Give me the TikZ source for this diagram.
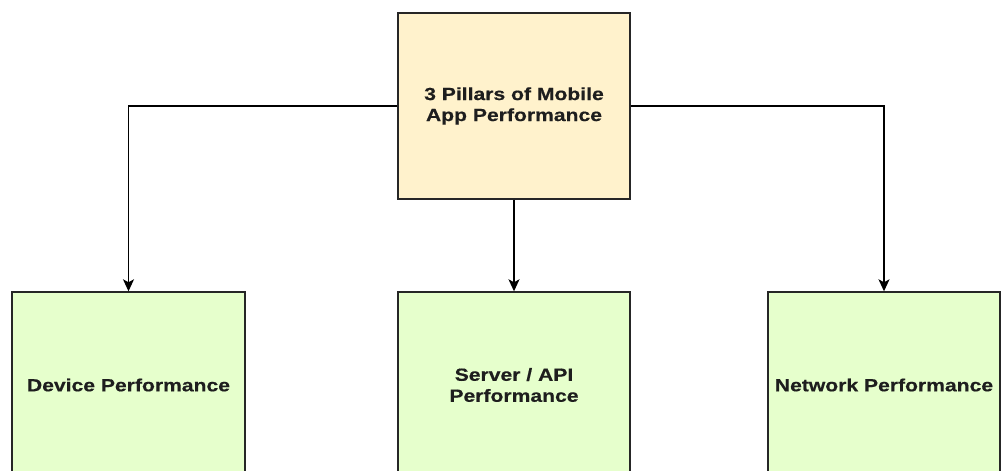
\documentclass[tikz,border=0pt]{standalone}
\usepackage{fontspec}
\newfontfamily\labfont[FakeStretch=1.2,FakeBold=0.5]{Liberation Sans Bold}
\usetikzlibrary{arrows.meta}
\definecolor{topfill}{HTML}{FFF2CC}
\definecolor{pillfill}{HTML}{E6FFCC}
\definecolor{txt}{HTML}{1E1E1E}
\begin{document}
\begin{tikzpicture}[x=1pt,y=-1pt,
  box/.style={draw=black!85,line width=1.4pt,minimum width=232pt,minimum height=186pt,
    inner sep=0pt,align=center,text=txt,font=\labfont\fontsize{17.6}{21}\selectfont},
  link/.style={draw=black,line width=1.4pt,-{Stealth[length=12pt,width=11pt,inset=3pt]}}]
\useasboundingbox (0,0) rectangle (1004,471);
\clip (0,0) rectangle (1004,471);
\node[box,fill=topfill] (top) at (514,106) {3 Pillars of Mobile\\App Performance};
\node[box,fill=pillfill,minimum width=233pt] (dev) at (128.5,385) {Device Performance};
\node[box,fill=pillfill] (srv) at (514,385) {Server / API\\Performance};
\node[box,fill=pillfill] (net) at (884,385) {Network Performance};
\draw[link] (top.west) -| (dev.north);
\draw[link] (top.south) -- (srv.north);
\draw[link] (top.east) -| (net.north);
\end{tikzpicture}
\end{document}
